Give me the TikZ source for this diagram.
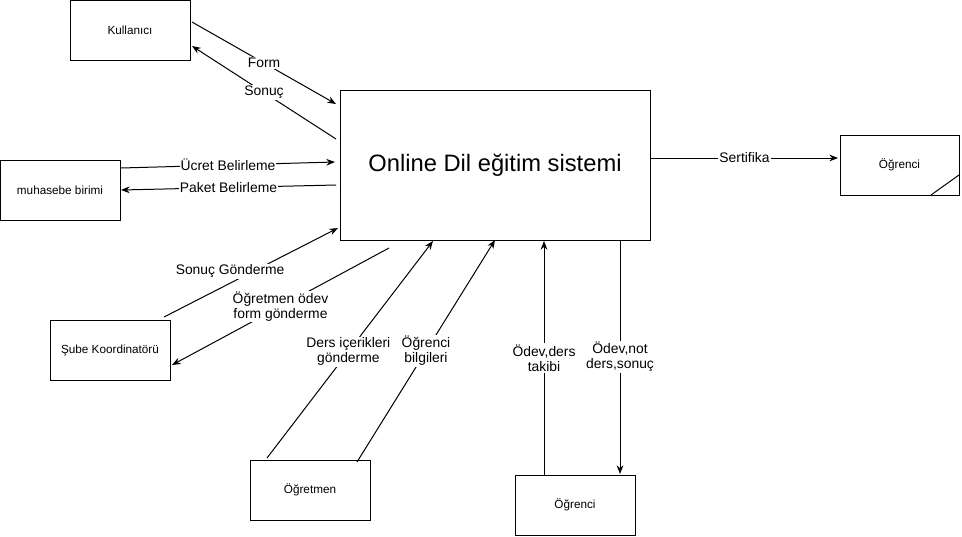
\documentclass[tikz,border=0pt]{standalone}
\usepackage{fontspec}
\setmainfont{Liberation Sans}
\usetikzlibrary{arrows.meta}
\begin{document}
\begin{tikzpicture}[x=0.75pt,y=-0.75pt,
  box/.style={draw,line width=0.75pt,minimum width=90pt,minimum height=45pt,inner sep=0pt,outer sep=0pt,font=\fontsize{8.8}{10}\selectfont},
  arr/.style={line width=0.75pt,-{Stealth[length=6.5pt,width=5pt]}},
  lbl/.style={fill=white,inner sep=0.8pt,align=center,font=\fontsize{10.4}{11.4}\selectfont},
  every node/.style={text=black}]
\useasboundingbox (0,0) rectangle (962,536);
% boxes
\node[box] (kul) at (130,30) {Kullanıcı};
\node[box,minimum width=232.5pt,minimum height=112.5pt,font=\fontsize{17.8}{20}\selectfont] (main) at (495,165) {Online Dil eğitim sistemi};
\node[box] (muh) at (60,190) {muhasebe birimi};
\node[box,minimum width=89.25pt] (ogr1) at (899.5,165) {Öğrenci};
\node[box] (sube) at (110,350) {Şube Koordinatörü};
\node[box] (ogrt) at (310,490) {Öğretmen};
\node[box] (ogr2) at (575,505) {Öğrenci};
\draw[line width=0.75pt] ([xshift=-21pt]ogr1.south east) -- ([yshift=15pt]ogr1.south east);
% connector end points
\coordinate (fa) at (192,22);  \coordinate (fb) at (336,104);
\coordinate (sa) at (336,139); \coordinate (sb) at (192,46);
\coordinate (ua) at (121,168); \coordinate (ub) at (335,162);
\coordinate (pa) at (336,185); \coordinate (pb) at (121,190);
\coordinate (ca) at (651,158); \coordinate (cb) at (838,158);
\coordinate (ga) at (164,317); \coordinate (gb) at (338,228);
\coordinate (oa) at (389,248); \coordinate (ob) at (172,365);
\coordinate (da) at (267,458); \coordinate (db) at (433,241);
\coordinate (ba) at (357,462); \coordinate (bb) at (495,240);
\coordinate (ta) at (544,475); \coordinate (tb) at (544,241);
\coordinate (na) at (620,240); \coordinate (nb) at (620,474);
% connectors
\draw[arr] (fa) -- node[lbl] (l1) {Form} (fb);
\draw[arr] (sa) -- node[lbl] (l2) {Sonuç} (sb);
\draw[arr] (ua) -- node[lbl] (l3) {Ücret Belirleme} (ub);
\draw[arr] (pa) -- node[lbl] (l4) {Paket Belirleme} (pb);
\draw[arr] (ca) -- node[lbl] (l5) {Sertifika} (cb);
\draw[arr] (ga) -- node[lbl,pos=0.38,yshift=9pt] (l6) {Sonuç Gönderme} (gb);
\draw[arr] (oa) -- node[lbl] (l7) {Öğretmen ödev\\form gönderme} (ob);
\draw[arr] (da) -- node[lbl,pos=0.49] (l8) {Ders içerikleri\\gönderme} (db);
\draw[arr] (ba) -- node[lbl] (l9) {Öğrenci\\bilgileri} (bb);
\draw[arr] (ta) -- node[lbl] (l10) {Ödev,ders\\takibi} (tb);
\draw[arr] (na) -- node[lbl] (l11) {Ödev,not\\ders,sonuç} (nb);
\end{tikzpicture}
\end{document}
